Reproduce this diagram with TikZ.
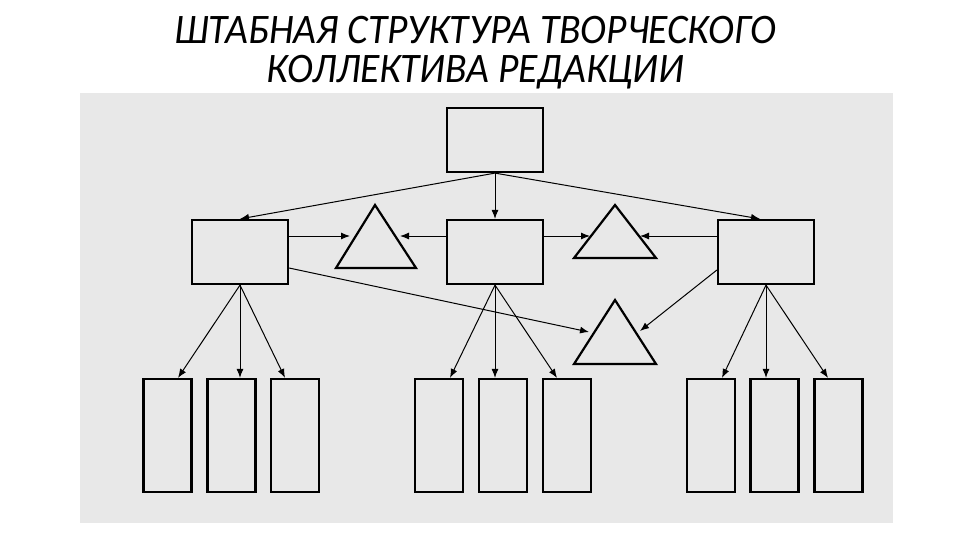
\documentclass[tikz,border=0pt]{standalone}
\usepackage{fontspec}
\setmainfont{Carlito}
\usetikzlibrary{arrows.meta,calc}
\definecolor{panel}{RGB}{232,232,232}
\begin{document}
\begin{tikzpicture}[x=1pt,y=-1pt,
  box/.style={draw,line width=2.2pt,inner sep=0pt,minimum width=96pt,minimum height=64pt},
  leafbox/.style={draw,line width=2.2pt,inner sep=0pt,minimum width=48pt,minimum height=113pt},
  tri/.style={draw,line width=2.2pt,line join=miter},
  arr/.style={line width=1pt,-{Latex[length=9pt,width=7pt]}},
  ttl/.style={anchor=north,inner sep=0pt,align=center,font=\fontsize{42}{39}\selectfont\itshape,xscale=0.94}]
\useasboundingbox (0,0) rectangle (960,540);
\fill[white] (0,0) rectangle (960,540);
\fill[panel] (80,93) rectangle (893,523);
% title
\node[ttl] (title) at (475,16) {ШТАБНАЯ СТРУКТУРА ТВОРЧЕСКОГО\\КОЛЛЕКТИВА РЕДАКЦИИ};
% boxes
\node[box] (top) at (495,140) {};
\node[box] (L) at (240,252) {};
\node[box] (C) at (495,252) {};
\node[box] (R) at (766,252) {};
% leaves
\node[leafbox] (l1) at (167.5,435.5) {};
\node[leafbox] (l2) at (231.5,435.5) {};
\node[leafbox] (l3) at (295,435.5) {};
\node[leafbox] (c1) at (439,435.5) {};
\node[leafbox] (c2) at (503,435.5) {};
\node[leafbox] (c3) at (567,435.5) {};
\node[leafbox] (r1) at (711,435.5) {};
\node[leafbox] (r2) at (774.5,435.5) {};
\node[leafbox] (r3) at (838.5,435.5) {};
% triangles
\draw[tri] (375,205) -- (416,268) -- (336,268) -- cycle;
\draw[tri] (615,205) -- (656,258) -- (574,258) -- cycle;
\draw[tri] (615,300) -- (656,364) -- (574,364) -- cycle;
\coordinate (t1l) at (350,236);
\coordinate (t1r) at (400,236);
\coordinate (t2l) at (590,236);
\coordinate (t2r) at (640,236);
\coordinate (t3l) at (589,332);
\coordinate (t3r) at (640,331);
% top arrows
\draw[arr] (top.south) -- (L.north);
\draw[arr] (top.south) -- (C.north);
\draw[arr] (top.south) -- ($(R.north)+(-6,0)$);
% side arrows
\draw[arr] (L.east |- t1l) -- (t1l);
\draw[arr] (C.west |- t1r) -- (t1r);
\draw[arr] (C.east |- t2l) -- (t2l);
\draw[arr] (R.west |- t2r) -- (t2r);
\draw[arr] ($(L.east)+(0,16)$) -- (t3l);
\draw[arr] ($(R.west)+(0,18)$) -- (t3r);
% leaf arrows
\draw[arr] (L.south) -- (l1.north -| 178,0);
\draw[arr] (L.south) -- (l2.north -| L.south);
\draw[arr] (L.south) -- (l3.north -| 285,0);
\draw[arr] (C.south) -- (c1.north -| 450,0);
\draw[arr] (C.south) -- (c2.north -| C.south);
\draw[arr] (C.south) -- (c3.north -| 557,0);
\draw[arr] (R.south) -- (r1.north -| 722,0);
\draw[arr] (R.south) -- (r2.north -| R.south);
\draw[arr] (R.south) -- (r3.north -| 828,0);
\end{tikzpicture}
\end{document}
